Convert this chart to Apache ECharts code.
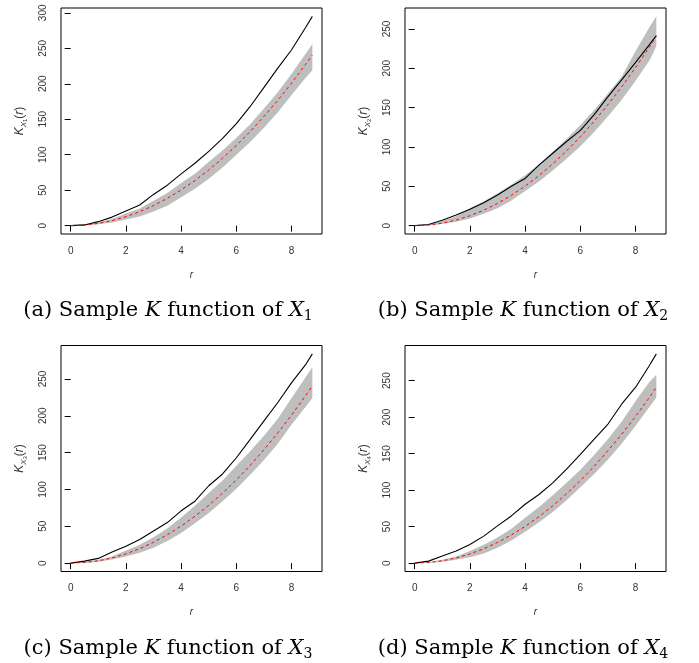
<!DOCTYPE html>
<html>
<head>
<meta charset="utf-8">
<script src="https://cdn.jsdelivr.net/npm/echarts@6/dist/echarts.min.js"></script>
<style>
html, body { margin: 0; padding: 0; background: #fff; }
#chart { width: 699px; height: 663px; }
</style>
</head>
<body>
<div id="chart"></div>
<script>
// r grid shared by all four panels
var r = [0, 0.5, 1, 1.5, 2, 2.5, 3, 3.5, 4, 4.5, 5, 5.5, 6, 6.5, 7, 7.5, 8, 8.5, 8.75];

// theoretical K (red dashed)
var theo = [0, 0.8, 3.1, 7.1, 12.6, 19.6, 28.3, 38.5, 50.3, 63.6, 78.5, 95, 113, 132.7, 154, 176.7, 201, 227, 240.5];

// panel (a)
var obsA = [0, 1, 5.6, 12, 20.7, 29, 44, 57, 73, 88, 104.6, 123, 143.7, 168, 195, 222, 248, 279, 295];
var loA  = [0, 0.3, 2, 4.5, 8.5, 13, 20, 28, 40, 52, 66, 82, 100, 118, 138, 160, 184, 208, 219];
var hiA  = [0, 1.5, 4.5, 9.5, 17, 24, 35, 46, 60, 73, 90, 106, 124, 143, 165, 188, 214, 242, 256];

// panel (b)
var obsB = [0, 1.5, 6.8, 13.6, 20.8, 29, 39, 50, 60, 77, 92, 107, 121, 141, 164, 185.5, 207.5, 230, 241.5];
var loB  = [0, 0.3, 2, 5, 9, 15, 22, 32, 44, 56, 70, 85, 101, 119, 139, 160, 184, 210, 228];
var hiB  = [0, 1.5, 6, 12, 22, 31, 41, 52, 64, 78, 94, 110, 128, 147, 168, 190, 222, 252, 266];

// panel (c)
var obsC = [0, 2.7, 6.4, 15, 23, 32, 43.6, 55, 71, 84, 105, 121, 143, 168, 193, 218, 245, 269, 284];
var loC  = [0, 0.3, 2, 5, 9, 14, 21, 30, 41, 54, 68, 84, 101, 120, 140, 162, 188, 212, 224];
var hiC  = [0, 1.5, 4.5, 9, 17, 25, 35, 47, 62, 78, 95, 112, 132, 152, 173, 196, 224, 252, 266];

// panel (d)
var obsD = [0, 2.7, 9.6, 16.5, 25.6, 37, 51, 64.6, 80.6, 94, 110, 128.7, 149, 170, 190.5, 218, 241, 270.6, 286.6];
var loD  = [0, 0.3, 2, 4.5, 8, 13, 21, 31, 43, 56, 70, 86, 104, 122, 142, 164, 188, 214, 227];
var hiD  = [0, 1.5, 4.5, 9, 16.5, 25, 35, 47, 62, 77, 93, 110, 128, 148, 170, 194, 222, 248, 258];

var xTicks = [0, 2, 4, 6, 8];
var yTicks300 = [0, 50, 100, 150, 200, 250, 300];
var yTicks250 = [0, 50, 100, 150, 200, 250];

var tags = ['a', 'b', 'c', 'd'];
var subs = ['1', '2', '3', '4'];

var panels = [
    {obs: obsA, lo: loA, hi: hiA, ymin: -11.8, ymax: 306.8, yticks: yTicks300, left: 61, top: 8, cx: 168, cy: 311},
    {obs: obsB, lo: loB, hi: hiB, ymin: -10.6, ymax: 276.6, yticks: yTicks250, left: 405, top: 8, cx: 523, cy: 311},
    {obs: obsC, lo: loC, hi: hiC, ymin: -11.4, ymax: 295.4, yticks: yTicks250, left: 61, top: 345.5, cx: 168, cy: 649},
    {obs: obsD, lo: loD, hi: hiD, ymin: -11.5, ymax: 298.1, yticks: yTicks250, left: 405, top: 345.5, cx: 523, cy: 649}
];

function pairs(xs, ys) {
    var out = [];
    for (var k = 0; k < xs.length; k++) out.push([xs[k], ys[k]]);
    return out;
}

var labelFont = 'Liberation Sans, Arial, sans-serif';
var capFont = 'DejaVu Serif, serif';
var grids = [], xAxes = [], yAxes = [], series = [], graphics = [];

panels.forEach(function (p, i) {
    grids.push({left: p.left, top: p.top, width: 261, height: 226, show: true,
        borderColor: '#000', borderWidth: 1, backgroundColor: 'transparent'});

    xAxes.push({
        gridIndex: i, type: 'value', min: -0.35, max: 9.1,
        splitLine: {show: false},
        axisLine: {show: false},
        axisTick: {show: true, length: 6, customValues: xTicks, lineStyle: {color: '#000'}},
        axisLabel: {customValues: xTicks, margin: 12, fontSize: 10, color: '#333', fontFamily: labelFont},
        name: 'r', nameLocation: 'middle', nameGap: 36,
        nameTextStyle: {fontStyle: 'italic', fontSize: 10, color: '#333', fontFamily: labelFont}
    });

    yAxes.push({
        gridIndex: i, type: 'value', min: p.ymin, max: p.ymax,
        splitLine: {show: false},
        axisLine: {show: false},
        axisTick: {show: true, length: 6, customValues: p.yticks, lineStyle: {color: '#000'}},
        axisLabel: {customValues: p.yticks, rotate: 90, margin: 13, fontSize: 10, color: '#333', fontFamily: labelFont},
        name: '{i|K}{s|X}{ss|' + subs[i] + '}{n|(}{i|r}{n|)}',
        nameLocation: 'middle', nameRotate: 90, nameGap: 33,
        nameTextStyle: {
            color: '#333', fontFamily: labelFont,
            rich: {
                i: {fontStyle: 'italic', fontSize: 12, lineHeight: 16, verticalAlign: 'middle', color: '#333', fontFamily: labelFont},
                n: {fontSize: 12, lineHeight: 16, verticalAlign: 'middle', color: '#333', fontFamily: labelFont},
                s: {fontStyle: 'italic', fontSize: 8, lineHeight: 10, verticalAlign: 'bottom', color: '#333', fontFamily: labelFont},
                ss: {fontSize: 6, lineHeight: 6, verticalAlign: 'bottom', color: '#333', fontFamily: labelFont}
            }
        }
    });

    // grey envelope
    series.push({
        type: 'custom', xAxisIndex: i, yAxisIndex: i, silent: true, clip: false, z: 1,
        data: [[0, 0]],
        renderItem: function (params, api) {
            var pts = [];
            for (var k = 0; k < r.length; k++) pts.push(api.coord([r[k], p.hi[k]]));
            for (var k2 = r.length - 1; k2 >= 0; k2--) pts.push(api.coord([r[k2], p.lo[k2]]));
            return {type: 'polygon', shape: {points: pts}, style: {fill: '#BEBEBE', stroke: null}};
        }
    });

    series.push({
        type: 'line', xAxisIndex: i, yAxisIndex: i, z: 3,
        data: pairs(r, p.obs), showSymbol: false, silent: true,
        lineStyle: {color: '#000', width: 1.1}
    });

    series.push({
        type: 'line', xAxisIndex: i, yAxisIndex: i, z: 4,
        data: pairs(r, theo), showSymbol: false, silent: true,
        lineStyle: {color: '#FF0000', width: 1, type: [3, 3]}
    });

    graphics.push({
        type: 'text', x: p.cx, y: p.cy,
        style: {
            text: '{n|(' + tags[i] + ') Sample }{i|K}{n| function of }{i|X}{s|' + subs[i] + '}',
            align: 'center', verticalAlign: 'middle',
            rich: {
                n: {fontSize: 21, lineHeight: 25, verticalAlign: 'middle', fontFamily: capFont, fill: '#000'},
                i: {fontSize: 21, lineHeight: 25, verticalAlign: 'middle', fontStyle: 'italic', fontFamily: capFont, fill: '#000'},
                s: {fontSize: 14, lineHeight: 14, verticalAlign: 'bottom', fontFamily: capFont, fill: '#000'}
            }
        }
    });
});

var chart = echarts.init(document.getElementById('chart'));
chart.setOption({
    animation: false,
    backgroundColor: '#fff',
    grid: grids,
    xAxis: xAxes,
    yAxis: yAxes,
    series: series,
    graphic: graphics
});
</script>
</body>
</html>
